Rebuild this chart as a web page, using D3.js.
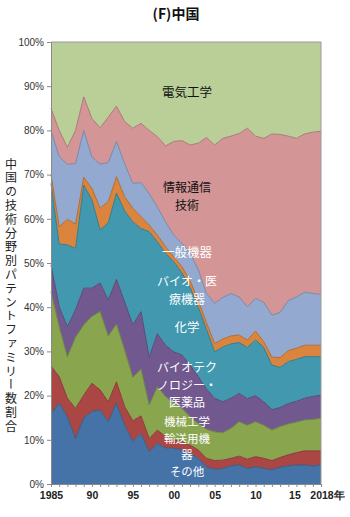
<!DOCTYPE html>
<html><head><meta charset="utf-8">
<script src="https://cdn.jsdelivr.net/npm/d3@7"></script>
<style>body{margin:0;background:#fff;} svg{display:block}</style>
</head><body>
<svg id="c" width="350" height="517"></svg>
<script>
const years = [1985,1986,1987,1988,1989,1990,1991,1992,1993,1994,1995,1996,1997,1998,1999,2000,2001,2002,2003,2004,2005,2006,2007,2008,2009,2010,2011,2012,2013,2014,2015,2016,2017,2018];
// shares (%) per technology field, bottom to top
const sonota  = [15.8,18.3,15.2,10.3,14.9,16.4,16.7,14.1,18.3,13.3,9.6,11.4,7.3,9.2,8.1,8.1,7.7,6.9,5.8,3.9,3.3,3.5,4.1,4.3,3.5,3.9,3.5,3.2,3.8,4.1,4.3,4.3,4.1,4.3];
const yuso    = [10.9,6.0,4.2,6.8,5.2,6.4,4.6,4.5,4.8,4.2,4.7,4.0,3.0,3.0,2.6,1.9,1.9,1.9,1.9,1.9,2.0,1.9,1.7,2.0,2.1,2.3,2.3,2.1,2.2,2.5,2.8,3.2,3.4,3.2];
const kikai   = [16.8,11.3,9.4,16.1,15.9,15.1,17.7,14.9,13.1,12.8,9.8,10.6,7.6,9.8,9.1,8.3,7.5,6.4,6.0,6.6,6.5,6.2,6.8,7.8,7.7,7.9,7.5,6.9,7.0,7.0,6.9,7.0,7.1,7.4];
const biotech = [6.0,4.5,6.8,6.2,8.3,6.4,6.5,8.1,10.1,10.9,11.9,13.0,10.8,12.0,11.6,11.6,12.1,11.7,10.6,9.1,7.6,7.0,6.8,6.4,6.0,5.9,5.3,4.6,4.3,4.6,4.7,4.9,5.2,5.2];
const kagaku  = [18.5,14.2,18.5,13.9,23.3,20.0,12.0,17.5,19.5,20.6,23.3,18.8,28.4,20.8,20.8,20.4,18.6,17.6,15.7,13.5,10.5,12.4,12.3,11.5,11.6,12.6,12.3,10.1,9.1,9.5,9.5,9.4,9.0,8.7];
const iryo    = [2.0,3.9,5.8,5.5,1.8,2.6,4.9,4.8,3.7,3.2,3.1,2.7,1.5,1.5,1.5,1.1,1.4,1.5,1.5,1.5,1.9,1.8,1.8,1.7,1.7,2.0,1.3,1.8,2.2,2.5,2.5,2.6,2.6,2.6];
const ippan   = [10.0,15.9,12.4,13.7,10.6,7.1,10.0,8.8,8.0,7.5,5.6,7.7,7.1,6.4,5.6,4.9,5.3,6.2,7.0,6.6,9.1,9.4,9.6,8.6,7.5,7.4,8.9,9.5,10.2,11.3,11.6,12.0,11.7,11.5];
const joho    = [5.0,5.9,3.9,7.5,7.6,8.7,8.2,10.3,8.0,9.5,12.5,13.4,14.3,15.9,17.2,21.2,23.2,24.5,28.6,35.3,35.8,36.0,35.6,37.0,40.4,36.7,37.1,41.0,40.3,37.2,35.9,35.8,36.5,36.9];
const denki   = [15.0,20.0,23.8,20.0,12.4,17.3,19.4,17.0,14.5,18.0,19.5,18.4,20.0,21.4,23.5,22.5,22.3,23.3,22.9,21.6,23.3,21.8,21.3,20.7,19.5,21.3,21.8,20.8,20.9,21.3,21.8,20.8,20.4,20.2];

const seriesNames = ["その他","輸送用機器","機械工学","バイオテクノロジー・医薬品","化学","バイオ・医療機器","一般機器","情報通信技術","電気工学"];
const seriesData = [sonota,yuso,kikai,biotech,kagaku,iryo,ippan,joho,denki];
const colors = ["#4572A7","#AA4643","#89A54E","#71588F","#4198AF","#DB843D","#93A9CF","#D39595","#BACF98"];
const yTicks = [0,10,20,30,40,50,60,70,80,90,100];
const xLabels = {1985:"1985",1990:"90",1995:"95",2000:"00",2005:"05",2010:"10",2015:"15",2018:"2018年"};

const rows = years.map((yr,i)=>{const r={year:yr}; seriesNames.forEach((n,k)=>r[n]=seriesData[k][i]); return r;});
const stack = d3.stack().keys(seriesNames).offset(d3.stackOffsetExpand);
const layers = stack(rows);

const L=51,R=321,T=42,B=484;
const x = d3.scaleLinear().domain([1985,2018]).range([L,R]);
const y = d3.scaleLinear().domain([0,1]).range([B,T]);
const svg = d3.select("#c");
const font = "'Liberation Sans',Arial,sans-serif";
const jfont = "'Noto Sans CJK JP','Noto Sans',sans-serif";

const area = d3.area().x(d=>x(d.data.year)).y0(d=>y(d[0])).y1(d=>y(d[1]));
const topLine = d3.line().x(d=>x(d.data.year)).y(d=>y(d[1]));
svg.append("g").selectAll("path").data(layers).join("path")
  .attr("d",area).attr("fill",(d,i)=>colors[i]);
svg.append("g").selectAll("path").data(layers.slice(0,-1)).join("path")
  .attr("d",topLine).attr("fill","none")
  .attr("stroke",(d,i)=>d3.color(colors[i]).darker(0.6)).attr("stroke-width",1);

// frame
svg.append("path").attr("d",`M${L},${T}H${R}V${B}`).attr("fill","none").attr("stroke","#9a9a9a").attr("stroke-width",1);

// y axis
const ya = svg.append("g").attr("transform",`translate(${L},0)`)
  .call(d3.axisLeft(y).tickValues(yTicks.map(v=>v/100)).tickFormat(v=>Math.round(v*100)+"%").tickSize(4).tickPadding(3));
ya.selectAll("path,line").attr("stroke","#8a8a8a");
ya.selectAll("text").attr("font-family",font).attr("font-size",10).attr("fill","#333");

// x axis
const xa = svg.append("g").attr("transform",`translate(0,${B})`)
  .call(d3.axisBottom(x).tickValues(years).tickFormat(v=>xLabels[v]||"").tickSize(3).tickPadding(5));
xa.selectAll("path,line").attr("stroke","#8a8a8a");
xa.selectAll("text").attr("font-family",font).attr("font-size",10.5).attr("font-weight","bold").attr("fill","#222");
xa.selectAll(".tick").filter(d=>d===2018).select("text").attr("dx",6);
xa.selectAll(".tick").filter(d=>d===2015).select("text").attr("dx",-2);

// title
svg.append("text").attr("x",176).attr("y",19).attr("text-anchor","middle")
  .attr("font-family",jfont).attr("font-weight","bold").attr("font-size",14).attr("fill","#111").text("(F)中国");

// y title vertical
svg.append("text").attr("x",11).attr("y",158)
  .attr("font-family",jfont).attr("font-size",12).attr("fill","#222")
  .style("writing-mode","vertical-rl").attr("letter-spacing",1.8)
  .text("中国の技術分野別パテントファミリー数割合");

// in-chart labels
const labels = [
  {lines:["電気工学"],y:97,c:"#111",g:16,f:12.5},
  {lines:["情報通信","技術"],y:192,c:"#111",g:17.8,f:12},
  {lines:["一般機器"],y:257,c:"#fff",g:16,f:12.5},
  {lines:["バイオ・医","療機器"],y:286,c:"#fff",g:17.8,f:12},
  {lines:["化学"],y:332,c:"#fff",g:16,f:12.5},
  {lines:["バイオテク","ノロジー・","医薬品"],y:372,c:"#fff",g:17.5,f:12},
  {lines:["機械工学","輸送用機","器","その他"],y:426,c:"#fff",g:16.7,f:11.5}
];
labels.forEach(l=>{
  l.lines.forEach((s,i)=>svg.append("text").attr("text-anchor","middle").attr("font-family",jfont)
    .attr("font-size",l.f).attr("fill",l.c).attr("x",187).attr("y",l.y+i*l.g).text(s));
});
</script>
</body></html>
